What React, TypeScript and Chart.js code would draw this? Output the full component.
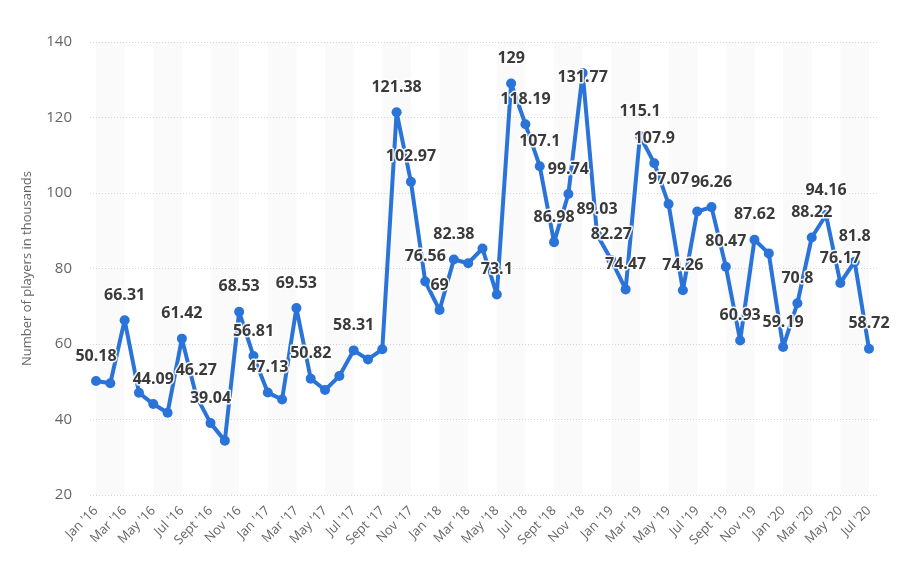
import React, { useEffect, useRef } from "react";
import { Chart, registerables } from "chart.js";

Chart.register(...registerables);

const monthNames = ["Jan", "Feb", "Mar", "Apr", "May", "Jun", "Jul", "Aug", "Sept", "Oct", "Nov", "Dec"];
const years = ["'16", "'17", "'18", "'19", "'20"];

const values = [
  50.18, 49.6, 66.31, 47.1, 44.09, 41.8, 61.42, 46.27, 39.04, 34.4, 68.53, 56.81,
  47.13, 45.3, 69.53, 50.82, 47.8, 51.5, 58.31, 55.9, 58.6, 121.38, 102.97, 76.56,
  69, 82.38, 81.4, 85.3, 73.1, 129, 118.19, 107.1, 86.98, 99.74, 131.77, 89.03,
  82.27, 74.47, 115.1, 107.9, 97.07, 74.26, 95.1, 96.26, 80.47, 60.93, 87.62, 84.0,
  59.19, 70.8, 88.22, 94.16, 76.17, 81.8, 58.72,
];

// indices of points whose value label is hidden in the original
const hiddenLabels = [1, 3, 5, 9, 13, 16, 17, 19, 20, 26, 27, 42, 47];

const yTicks = [20, 40, 60, 80, 100, 120, 140];

const categories: string[] = [];
for (let y = 0; y < years.length; y++) {
  for (let m = 0; m < 12; m++) {
    if (categories.length < values.length) categories.push(`${monthNames[m]} ${years[y]}`);
  }
}

const LINE = "#2a73d9";

const bandsPlugin = {
  id: "bands",
  beforeDraw(chart: any) {
    const { ctx, chartArea, scales } = chart;
    const xs = scales.x;
    ctx.save();
    ctx.fillStyle = "#fafafa";
    for (let i = 0; i < categories.length - 1; i += 4) {
      const a = xs.getPixelForValue(i);
      const b = xs.getPixelForValue(Math.min(i + 2, categories.length - 1));
      ctx.fillRect(a, chartArea.top, b - a, chartArea.bottom - chartArea.top);
    }
    ctx.restore();
  },
};

const labelsPlugin = {
  id: "valueLabels",
  afterDatasetsDraw(chart: any) {
    const { ctx, chartArea } = chart;
    const meta = chart.getDatasetMeta(0);
    ctx.save();
    ctx.font = "bold 16px 'Open Sans'";
    ctx.textAlign = "center";
    ctx.textBaseline = "middle";
    ctx.lineJoin = "round";
    meta.data.forEach((pt: any, i: number) => {
      if (hiddenLabels.includes(i)) return;
      const text = String(values[i]);
      let y = pt.y - 25;
      if (y - 8 < chartArea.top) y = pt.y + 4;
      ctx.strokeStyle = "rgba(255,255,255,0.9)";
      ctx.lineWidth = 3;
      ctx.strokeText(text, pt.x, y);
      ctx.fillStyle = "#3a3a3a";
      ctx.fillText(text, pt.x, y);
    });
    ctx.restore();
  },
};

export default function App() {
  const ref = useRef<HTMLCanvasElement | null>(null);

  useEffect(() => {
    if (!ref.current) return;
    const chart = new Chart(ref.current, {
      type: "line",
      data: {
        datasets: [
          {
            data: values.map((v, i) => ({ x: i, y: v })),
            borderColor: LINE,
            backgroundColor: LINE,
            borderWidth: 4,
            borderJoinStyle: "round",
            borderCapStyle: "round",
            pointRadius: 5,
            pointBorderWidth: 0,
            pointBackgroundColor: LINE,
            tension: 0,
          },
        ],
      },
      options: {
        animation: false,
        responsive: false,
        devicePixelRatio: 1,
        layout: { padding: { top: 42, right: 25, bottom: 0, left: 0 } },
        plugins: { legend: { display: false }, tooltip: { enabled: false } },
        scales: {
          x: {
            type: "linear",
            min: -0.42,
            max: 54.63,
            afterBuildTicks: (scale: any) => {
              scale.ticks = categories
                .map((_, i) => i)
                .filter((i) => i % 2 === 0)
                .map((i) => ({ value: i }));
            },
            afterFit: (scale: any) => {
              scale.height = 71;
            },
            grid: { display: false, drawTicks: false },
            border: { display: false },
            ticks: {
              autoSkip: false,
              maxRotation: 45,
              minRotation: 45,
              padding: 8,
              color: "#666666",
              font: { family: "'Open Sans'", size: 13 },
              callback: (v: any) => categories[v] ?? "",
            },
          },
          y: {
            min: 20,
            max: 140,
            afterBuildTicks: (scale: any) => {
              scale.ticks = yTicks.map((v) => ({ value: v }));
            },
            afterFit: (scale: any) => {
              scale.width = 90;
            },
            grid: { color: "#d6d6d6", lineWidth: 1, drawTicks: false },
            border: { display: false, dash: [1, 2] },
            ticks: {
              padding: 18,
              color: "#666666",
              font: { family: "'Open Sans'", size: 15 },
            },
            title: {
              display: true,
              text: "Number of players in thousands",
              color: "#666666",
              font: { family: "'Open Sans'", size: 13 },
              padding: { top: 19, bottom: 0 },
            },
          },
        },
      },
      plugins: [bandsPlugin, labelsPlugin],
    });
    return () => chart.destroy();
  }, []);

  return (
    <div style={{ position: "fixed", left: 0, top: 0, width: 903, height: 566, background: "#fff" }}>
      <canvas ref={ref} width={903} height={566} style={{ width: 903, height: 566 }} />
    </div>
  );
}
